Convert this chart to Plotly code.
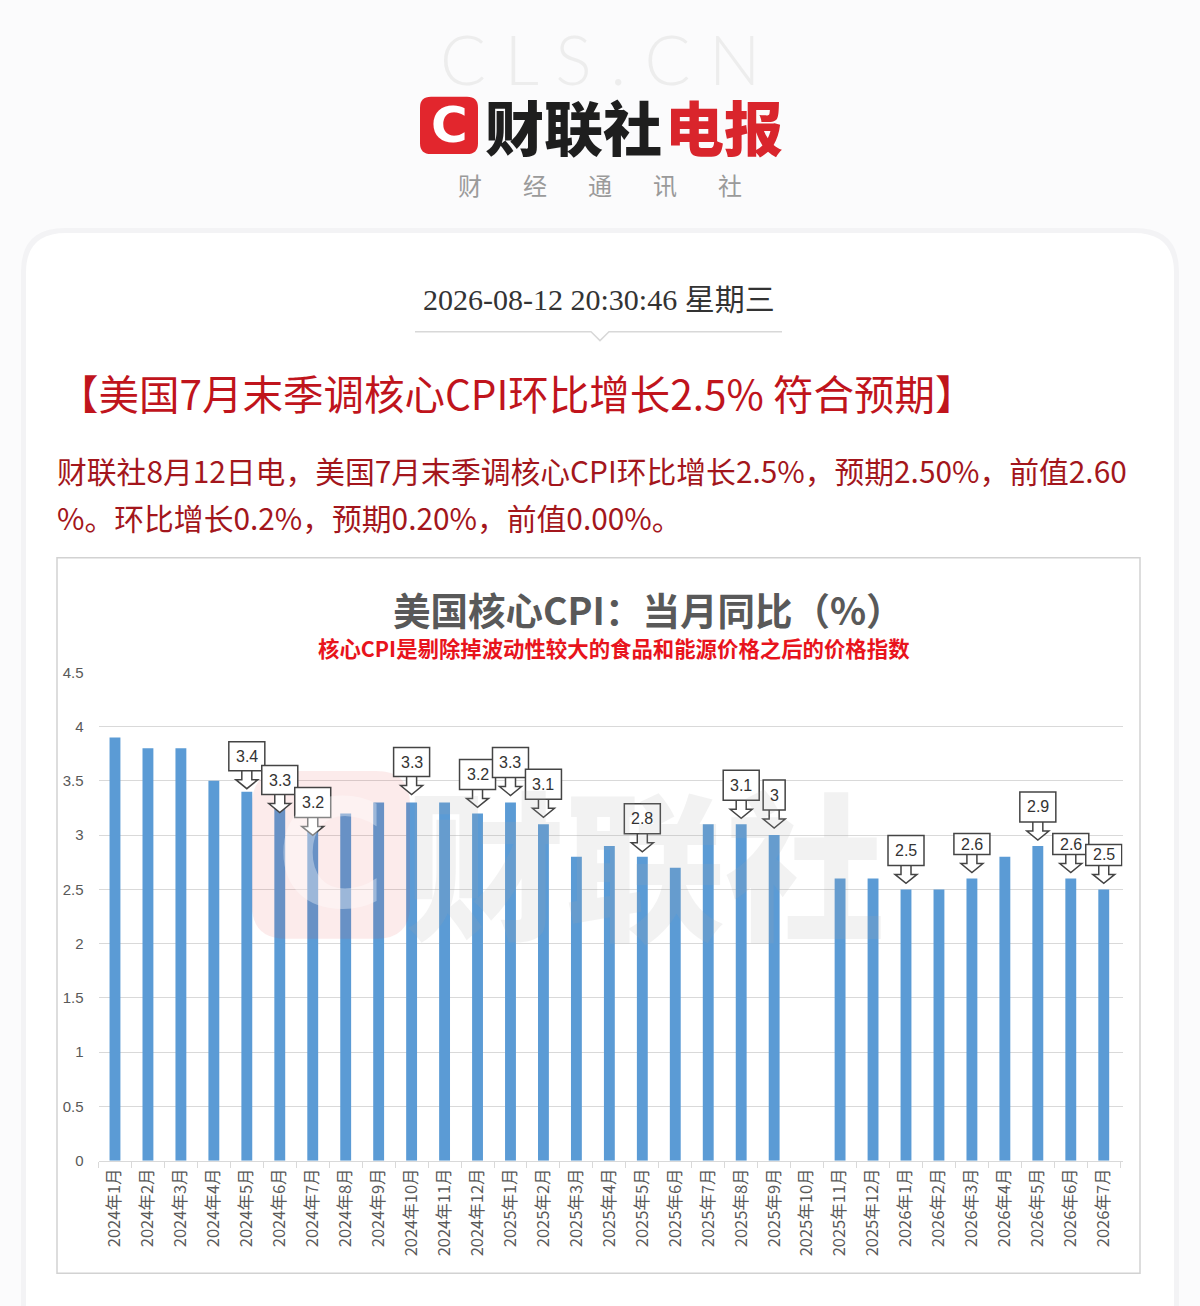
"""
CLS telegraph screenshot: US core CPI YoY bar chart with callouts.
Writes out.html
"""
import plotly.graph_objects as go

W, H = 1200, 1306

# ---- data -----------------------------------------------------------------
months = [
    "2024年1月", "2024年2月", "2024年3月", "2024年4月", "2024年5月", "2024年6月",
    "2024年7月", "2024年8月", "2024年9月", "2024年10月", "2024年11月", "2024年12月",
    "2025年1月", "2025年2月", "2025年3月", "2025年4月", "2025年5月", "2025年6月",
    "2025年7月", "2025年8月", "2025年9月", "2025年10月", "2025年11月", "2025年12月",
    "2026年1月", "2026年2月", "2026年3月", "2026年4月", "2026年5月", "2026年6月",
    "2026年7月",
]
core_cpi_yoy = [
    3.9, 3.8, 3.8, 3.5, 3.4, 3.3, 3.2, 3.2, 3.3, 3.3, 3.3, 3.2,
    3.3, 3.1, 2.8, 2.9, 2.8, 2.7, 3.1, 3.1, 3.0, None, 2.6, 2.6,
    2.5, 2.5, 2.6, 2.8, 2.9, 2.6, 2.5,
]
callout_months = [
    "2024年5月", "2024年6月", "2024年7月", "2024年10月", "2024年12月",
    "2025年1月", "2025年2月", "2025年5月", "2025年8月", "2025年9月",
    "2026年1月", "2026年3月", "2026年5月", "2026年6月", "2026年7月",
]

# callout styling (pixels): tip offset above bar, box height
callout_lift = [3, -10, -22, 8, 6, 7, 7, 5, 6, 7, 6, 6, 6, 6, 6]
callout_box_h = [29, 29, 30, 29, 30, 30, 30, 30, 30, 30, 30, 21, 30, 21, 21]

RED_TITLE = "#c0141c"
RED_BODY = "#a3161c"
CJK = "Noto Sans CJK SC"


def fx(px):
    return px / W


def fy(py):
    return 1 - py / H


def rrect(x0, y0, x1, y1, r):
    pts = [
        ("M", [(x0 + r, y0)]), ("L", [(x1 - r, y0)]), ("Q", [(x1, y0), (x1, y0 + r)]),
        ("L", [(x1, y1 - r)]), ("Q", [(x1, y1), (x1 - r, y1)]), ("L", [(x0 + r, y1)]),
        ("Q", [(x0, y1), (x0, y1 - r)]), ("L", [(x0, y0 + r)]), ("Q", [(x0, y0), (x0 + r, y0)]),
    ]
    s = ""
    for cmd, ps in pts:
        s += cmd + " " + " ".join(f"{fx(a):.5f},{fy(b):.5f}" for a, b in ps) + " "
    return s + "Z"


fig = go.Figure()

fig.add_trace(go.Bar(
    x=months, y=core_cpi_yoy, marker=dict(color="#5b9bd5", line=dict(width=0)),
    hoverinfo="x+y",
))

shapes = []
annotations = []

# page background card + soft shadow
shapes.append(dict(type="path", xref="paper", yref="paper", layer="below",
                   path=rrect(21, 222, 1179, 1360, 44), fillcolor="#f3f3f5", line=dict(width=0)))
shapes.append(dict(type="path", xref="paper", yref="paper", layer="below",
                   path=rrect(26, 227, 1174, 1360, 40), fillcolor="#ffffff", line=dict(width=0)))

# chart frame
shapes.append(dict(type="rect", xref="paper", yref="paper", layer="below",
                   x0=fx(57), x1=fx(1140), y0=fy(1281), y1=fy(556),
                   fillcolor="#ffffff", line=dict(color="#d2d2d2", width=1.5)))

# divider under date with small notch
shapes.append(dict(type="path", xref="paper", yref="paper",
                   path=f"M {fx(415)},{fy(327)} L {fx(591)},{fy(327)} L {fx(600)},{fy(336)} "
                        f"L {fx(609)},{fy(327)} L {fx(782)},{fy(327)}",
                   line=dict(color="#d8d8d8", width=1.5)))

# logo box
shapes.append(dict(type="path", xref="paper", yref="paper",
                   path=rrect(420, 89, 478, 147, 11), fillcolor="#e2262d", line=dict(width=0)))

# watermark logo
shapes.append(dict(type="path", xref="paper", yref="paper", layer="above",
                   path=rrect(252, 772, 410, 942, 34), fillcolor="rgba(226,60,60,0.10)",
                   line=dict(width=0)))

# header texts
annotations += [
    dict(text="C L S . C N", x=fx(600), y=fy(50), font=dict(family="Lato", size=68, color="#ededed", weight=300)),
    dict(text="C", x=fx(449), y=fy(118), font=dict(family="DejaVu Sans", size=50, color="#ffffff", weight="bold")),
    dict(text="财联社", x=fx(483), y=fy(118), xanchor="left",
         font=dict(family=CJK, size=59, color="#1e1e1e", weight=900)),
    dict(text="电报", x=fx(663), y=fy(118), xanchor="left",
         font=dict(family=CJK, size=59, color="#d9252c", weight=900)),
]
for i, ch in enumerate("财经通讯社"):
    annotations.append(dict(text=ch, x=fx(470 + 65 * i), y=fy(178),
                            font=dict(family=CJK, size=24, color="#9a9a9a")))

annotations += [
    dict(text="2026-08-12 20:30:46 星期三", x=fx(599), y=fy(294),
         font=dict(family="Liberation Serif, " + CJK, size=30, color="#333333")),
    dict(text="【美国7月末季调核心CPI环比增长2.5% 符合预期】", x=fx(56), y=fy(389), xanchor="left",
         font=dict(family=CJK, size=40.5, color=RED_TITLE)),
    dict(text="财联社8月12日电，美国7月末季调核心CPI环比增长2.5%，预期2.50%，前值2.60",
         x=fx(55), y=fy(467), xanchor="left", font=dict(family=CJK, size=29.8, color=RED_BODY)),
    dict(text="%。环比增长0.2%，预期0.20%，前值0.00%。",
         x=fx(55), y=fy(515), xanchor="left", font=dict(family=CJK, size=29.8, color=RED_BODY)),
    dict(text="<b>美国核心CPI：当月同比（%）</b>", x=fx(648), y=fy(607),
         font=dict(family=CJK, size=37.5, color="#595959")),
    dict(text="<b>核心CPI是剔除掉波动性较大的食品和能源价格之后的价格指数</b>", x=fx(614), y=fy(647),
         font=dict(family=CJK, size=21.4, color="#e8141c")),
    # watermark
    dict(text="C", x=fx(331), y=fy(857),
         font=dict(family="DejaVu Sans", size=150, color="rgba(255,255,255,0.35)", weight="bold")),
    dict(text="财联社", x=fx(645), y=fy(860),
         font=dict(family=CJK, size=160, color="rgba(170,170,170,0.15)", weight=900)),
]
for a in annotations:
    a.setdefault("xref", "paper")
    a.setdefault("yref", "paper")
    a.setdefault("showarrow", False)
    a.setdefault("xanchor", "center")
    a.setdefault("yanchor", "middle")

# callouts: outlined box with hollow down arrow, anchored at bar tops
ARROW = 18
for m, lift, bh in zip(callout_months, callout_lift, callout_box_h):
    idx = months.index(m)
    v = core_cpi_yoy[idx]
    label = f"{v:g}"
    bw = 22 if len(label) == 1 else 36
    t = lift
    b0 = t + ARROW
    b1 = b0 + bh
    path = (f"M {-bw/2},{b0} L {-bw/2},{b1} L {bw/2},{b1} L {bw/2},{b0} Z "
            f"M -5,{b0} L -5,{t+9} L -11,{t+9} L 0,{t} L 11,{t+9} L 5,{t+9} L 5,{b0} Z")
    shapes.append(dict(type="path", xref="x", yref="y", xsizemode="pixel", ysizemode="pixel",
                       xanchor=idx, yanchor=v, path=path, fillcolor="#ffffff",
                       line=dict(color="#444444", width=1.5), layer="above"))
    annotations.append(dict(x=m, y=v, xref="x", yref="y", text=label, showarrow=False,
                            yshift=b0 + bh / 2, xanchor="center", yanchor="middle",
                            font=dict(family="Liberation Sans", size=16, color="#333333")))

fig.update_layout(
    width=W, height=H, autosize=False,
    margin=dict(l=0, r=0, t=0, b=0),
    paper_bgcolor="#fbfbfc",
    plot_bgcolor="rgba(0,0,0,0)",
    showlegend=False,
    bargap=0.67,
    font=dict(family=CJK, color="#595959"),
    shapes=shapes,
    annotations=annotations,
    xaxis=dict(
        type="category", domain=[fx(98.5), fx(1122.5)],
        tickangle=-90, tickfont=dict(size=16.5, color="#595959", family=CJK),
        showline=True, linecolor="#d9d9d9", linewidth=1,
        ticks="outside", tickson="boundaries", ticklen=6, tickcolor="#d9d9d9",
        showgrid=False, fixedrange=True,
    ),
    yaxis=dict(
        domain=[fy(1167), fy(672)], range=[0, 4.5], dtick=0.5,
        gridcolor="#d9d9d9", gridwidth=1, zeroline=False, showline=False,
        tickfont=dict(size=15, color="#595959", family="Liberation Sans"),
        ticklabelstandoff=14, fixedrange=True,
    ),
)

fig.write_html(
    "out.html",
    config={"displayModeBar": False},
    post_script="document.body.style.margin='0';document.body.style.overflow='hidden';",
)
